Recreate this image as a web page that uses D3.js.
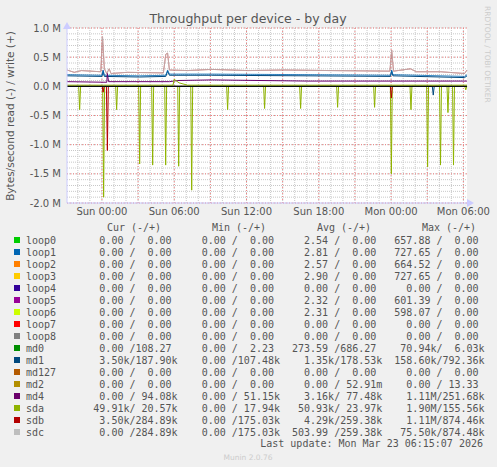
<!DOCTYPE html>
<html><head><meta charset="utf-8">
<script src="https://cdn.jsdelivr.net/npm/d3@7"></script>
<style>body{margin:0;background:#f0f0f0}svg{display:block}text{font-family:"DejaVu Sans",sans-serif}</style>
</head><body><svg id="chart" width="497" height="467"></svg>
<script>
// hours after Sat 21:06
const names = ['loop0','loop1','loop2','loop3','loop4','loop5','loop6','loop7','loop8','md0','md1','md127','md2','md4','sda','sdb','sdc']
const colors = ['#00cc00','#0066b3','#ff8000','#ffcc00','#330099','#990099','#ccff00','#ff0000','#808080','#008f00','#00487d','#b35a00','#b38f00','#6b006b','#8fb300','#b30000','#bebebe']
const curVals = ['  0.00 /  0.00 ','  0.00 /  0.00 ','  0.00 /  0.00 ','  0.00 /  0.00 ','  0.00 /  0.00 ','  0.00 /  0.00 ','  0.00 /  0.00 ','  0.00 /  0.00 ','  0.00 /  0.00 ','  0.00 /108.27 ','  3.50k/187.90k','  0.00 /  0.00 ','  0.00 /  0.00 ','  0.00 / 94.08k',' 49.91k/ 20.57k','  3.50k/284.89k','  0.00 /284.89k']
const minVals = ['  0.00 /  0.00 ','  0.00 /  0.00 ','  0.00 /  0.00 ','  0.00 /  0.00 ','  0.00 /  0.00 ','  0.00 /  0.00 ','  0.00 /  0.00 ','  0.00 /  0.00 ','  0.00 /  0.00 ','  0.00 /  2.23 ','  0.00 /107.48k','  0.00 /  0.00 ','  0.00 /  0.00 ','  0.00 / 51.15k','  0.00 / 17.94k','  0.00 /175.03k','  0.00 /175.03k']
const avgVals = ['  2.54 /  0.00 ','  2.81 /  0.00 ','  2.57 /  0.00 ','  2.90 /  0.00 ','  0.00 /  0.00 ','  2.32 /  0.00 ','  2.31 /  0.00 ','  0.00 /  0.00 ','  0.00 /  0.00 ','273.59 /686.27 ','  1.35k/178.53k','  0.00 /  0.00 ','  0.00 / 52.91m','  3.16k/ 77.48k',' 50.93k/ 23.97k','  4.29k/259.38k','503.99 /259.38k']
const maxVals = ['657.88 /  0.00 ','727.65 /  0.00 ','664.52 /  0.00 ','727.65 /  0.00 ','  0.00 /  0.00 ','601.39 /  0.00 ','598.07 /  0.00 ','  0.00 /  0.00 ','  0.00 /  0.00 ',' 70.94k/  6.03k','158.60k/792.36k','  0.00 /  0.00 ','  0.00 / 13.33 ','  1.11M/251.68k','  1.90M/155.56k','  1.11M/874.46k',' 75.50k/874.48k']

const sdcWrite = [[0,0.28],[0.6,0.24],[1.2,0.27],[2.8,0.25],[2.95,0.85],[3.1,0.3],[3.3,0.22],[3.5,0.3],[3.65,0.22],[5,0.24],[8.0,0.23],[8.2,0.55],[8.35,0.57],[8.5,0.28],[10,0.27],[12,0.29],[15,0.27],[18,0.28],[22,0.27],[26.8,0.26],[26.95,0.62],[27.1,0.26],[28.5,0.3],[29,0.25],[31,0.25],[33,0.22],[33.2,0.28]]
const md1Write = [[0,0.18],[2.9,0.17],[3.0,0.26],[3.1,0.17],[6,0.16],[8.2,0.17],[8.35,0.26],[8.5,0.19],[12,0.19],[20,0.18],[26.85,0.17],[26.95,0.26],[27.05,0.18],[33,0.15],[33.2,0.18]]
const md4Write = [[0,0.08],[3.3,0.07],[3.35,0.22],[3.45,0.08],[8.5,0.08],[9.2,0.1],[12,0.11],[20,0.09],[33.2,0.09]]
const sdaWrite = [[0,0.02],[3,0.02],[8.8,0.02],[8.9,0.12],[9.3,0.06],[10,0.02],[20,0.02],[33.2,0.02]]
const sdaSpikeHours = [1.05,3.04,4.12,6.03,7.11,8.19,9.27,10.35,13.33,16.4,19.39,22.46,25.53,26.92,28.55,29.93,31.0,31.62,32.08,33.1]
const sdaSpikeDepth = [0.4,1.9,0.4,1.33,1.35,1.35,1.37,1.78,0.4,0.38,0.38,0.36,0.36,1.5,0.4,1.38,1.35,0.45,1.35,0.06]
const sdbSpikeHours = [3.0,3.35,26.92]
const sdbSpikeDepth = [0.1,1.1,0.2]
const md1SpikeHours = [30.4]
const md1SpikeDepth = [0.15]
const yTicks = [1,0.5,0,-0.5,-1,-1.5,-2]

const t0 = new Date(2026,2,21,21,6)
const hour = h => new Date(+t0 + h*3600e3)
const svg = d3.select('#chart')
const x = d3.scaleTime().domain([t0, hour(33.2)]).range([67, 467])
const y = d3.scaleLinear().domain([-2, 1]).range([203, 28])

svg.append('rect').attr('x',67).attr('y',28).attr('width',400).attr('height',175).attr('fill','#fff')
// minor grid
svg.append('g').selectAll('line').data(d3.timeHour.range(t0, hour(33.2))).join('line')
  .attr('x1',d=>x(d)).attr('x2',d=>x(d)).attr('y1',28).attr('y2',203)
  .attr('stroke','#c8c8c8').attr('stroke-dasharray','1,1').attr('stroke-width',1)
svg.append('g').selectAll('line').data(d3.range(-2,1.01,0.1)).join('line')
  .attr('x1',67).attr('x2',467).attr('y1',d=>y(d)).attr('y2',d=>y(d))
  .attr('stroke','#c8c8c8').attr('stroke-dasharray','1,1').attr('stroke-width',1)
// major grid
svg.append('g').selectAll('line').data(d3.timeHour.every(3).range(t0, hour(33.2))).join('line')
  .attr('x1',d=>x(d)).attr('x2',d=>x(d)).attr('y1',28).attr('y2',203)
  .attr('stroke','#f08080').attr('stroke-dasharray','1,2').attr('stroke-width',1)
svg.append('g').selectAll('line').data(yTicks).join('line')
  .attr('x1',67).attr('x2',467).attr('y1',d=>y(d)).attr('y2',d=>y(d))
  .attr('stroke','#f08080').attr('stroke-dasharray','1,2').attr('stroke-width',1)

const line = d3.line().x(d=>x(hour(d[0]))).y(d=>y(d[1]))
const spikes = (hs, ds) => [[0,0]].concat(hs.flatMap((h,i)=>[[h-0.08,0],[h,-ds[i]],[h+0.08,0]]),[[33.2,0]])
const draw = (pts, c, op=1) => svg.append('path').attr('d',line(pts)).attr('fill','none').attr('stroke',c).attr('stroke-width',1).attr('opacity',op)

draw(spikes(sdaSpikeHours, sdaSpikeDepth), '#8fb300')
draw(spikes(sdbSpikeHours, sdbSpikeDepth), '#b30000')
draw(spikes(md1SpikeHours, md1SpikeDepth), '#00487d')
draw(sdcWrite, '#b30000', 0.6)
draw(sdcWrite, '#bebebe', 0.7)
draw(md1Write, '#00487d')
draw(md1Write.map(d=>[d[0],d[1]+0.02]), '#0066b3', 0.8)
draw(md4Write, '#6b006b')
draw(sdaWrite, '#8fb300')
svg.append('line').attr('x1',67).attr('x2',467).attr('y1',y(0)).attr('y2',y(0)).attr('stroke','#000').attr('stroke-width',1)

// axes frame
svg.append('line').attr('x1',67).attr('x2',472).attr('y1',203).attr('y2',203).attr('stroke','#ccf')
svg.append('line').attr('x1',67).attr('x2',67).attr('y1',24).attr('y2',203).attr('stroke','#ccf')
svg.append('path').attr('d','M467,199L474,203L467,207Z').attr('fill','#ccf')
svg.append('path').attr('d','M63,29L67,22L71,29Z').attr('fill','#ccf')

svg.append('g').selectAll('text').data(yTicks).join('text')
  .attr('x',61).attr('y',d=>y(d)+3.5).attr('text-anchor','end').attr('font-size',10).attr('fill','#555')
  .text(d=>d.toFixed(1)+' M')
svg.append('g').selectAll('text').data(d3.timeHour.every(6).range(hour(0.5), hour(33.2))).join('text')
  .attr('x',d=>x(d)).attr('y',215).attr('text-anchor','middle').attr('font-size',10).attr('fill','#555')
  .text(d3.timeFormat('%a %H:%M'))

svg.append('text').attr('x',248).attr('y',23).attr('text-anchor','middle').attr('font-size',12.5).attr('fill','#555').text('Throughput per device - by day')
svg.append('text').attr('transform','translate(14,116) rotate(-90)').attr('text-anchor','middle').attr('font-size',10.5).attr('fill','#555').text('Bytes/second read (-) / write (+)')
svg.append('text').attr('transform','translate(485,6) rotate(90)').attr('font-size',7.5).attr('fill','#ccc').text('RRDTOOL / TOBI OETIKER')

// legend
const mono = g => g.style('font-family','"DejaVu Sans Mono",monospace').attr('font-size',10).attr('fill','#555').attr('xml:space','preserve')
const heads = [['Cur (-/+)',134],['Min (-/+)',239],['Avg (-/+)',344],['Max (-/+)',449]]
heads.forEach(h=>svg.append('text').call(mono).attr('x',h[1]).attr('y',231).attr('text-anchor','middle').text(h[0]))
const rows = svg.append('g').selectAll('g').data(names).join('g').attr('transform',(d,i)=>`translate(0,${240+i*12})`)
rows.append('rect').attr('x',14).attr('y',-3).attr('width',6).attr('height',6).attr('fill',(d,i)=>colors[i])
rows.append('text').call(mono).attr('x',26).attr('y',3.5).text(d=>d)
;[[curVals,87.3],[minVals,189.7],[avgVals,292],[maxVals,394.3]].forEach(c=>
  rows.append('text').call(mono).attr('x',c[1]).attr('y',3.5).text((d,i)=>c[0][i]))
svg.append('text').call(mono).attr('x',483).attr('y',447).attr('text-anchor','end').text('Last update: Mon Mar 23 06:15:07 2026')
svg.append('text').attr('x',248).attr('y',460).attr('text-anchor','middle').attr('font-size',7.5).attr('fill','#ccc').text('Munin 2.0.76')
</script></body></html>
